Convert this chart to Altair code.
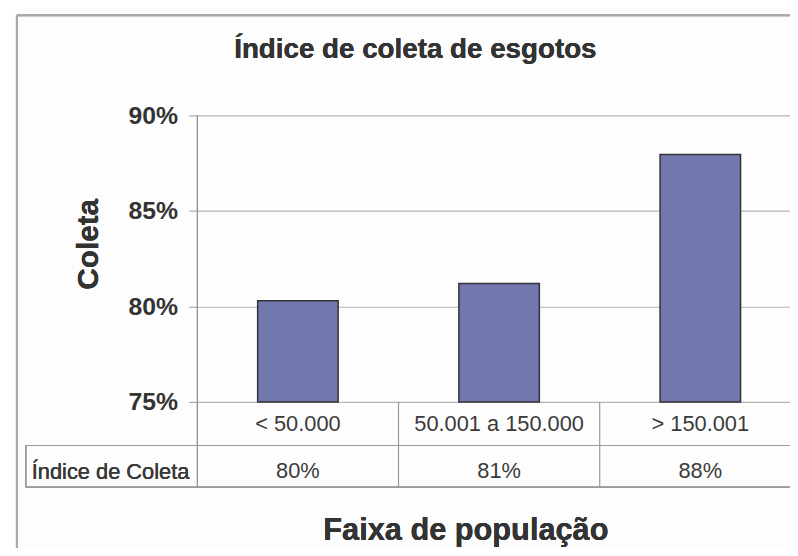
import altair as alt
import pandas as pd

# ---- data ----
categories = ["< 50.000", "50.001 a 150.000", "> 150.001"]
coleta = [80.3, 81.2, 87.95]
table_labels = ["80%", "81%", "88%"]
y_ticks = [75, 80, 85, 90]
row_header = "Índice de Coleta"
chart_title = "Índice de coleta de esgotos"
y_title = "Coleta"
x_title = "Faixa de população"

df = pd.DataFrame({"faixa": categories, "coleta": coleta, "rotulo": table_labels})

FONT = "Liberation Sans, Arial, Helvetica, sans-serif"
W, H = 598, 289
LINE = "#9a9a9a"

x_scale = alt.Scale(domain=categories, range=[0, 609], paddingInner=0, paddingOuter=0)
y_scale = alt.Scale(domain=[75, 90], zero=False, nice=False)
xenc = alt.X("faixa:N", scale=x_scale, axis=None, sort=categories)

bars = alt.Chart(df).mark_bar(
    width=alt.RelativeBandSize(0.4), fill="#7278ae", stroke="#333333", strokeWidth=1.5
).encode(
    x=xenc,
    y=alt.Y(
        "coleta:Q",
        scale=y_scale,
        axis=alt.Axis(
            values=y_ticks,
            labelExpr="datum.value + '%'",
            labelFont=FONT,
            labelFontSize=25,
            labelFontWeight="bold",
            labelColor="#333333",
            labelPadding=11,
            tickSize=9,
            tickColor=LINE,
            domain=False,
            grid=True,
            gridColor="#b5b5b5",
            gridWidth=1.2,
            title=None,
        ),
    ),
    y2=alt.datum(75),
)

# table: vertical separators at band starts
first = df.iloc[[0]]
rest = df.iloc[1:]
axis_line = alt.Chart(first).mark_rule(color="#8a8a8a", strokeWidth=1.2).encode(
    x=alt.X("faixa:N", scale=x_scale, axis=None, sort=categories, bandPosition=0),
    y=alt.value(0),
    y2=alt.value(375),
)
sep_lines = alt.Chart(rest).mark_rule(color=LINE, strokeWidth=1.2).encode(
    x=alt.X("faixa:N", scale=x_scale, axis=None, sort=categories, bandPosition=0),
    y=alt.value(H),
    y2=alt.value(375),
)
hline1 = alt.Chart(df).mark_rule(color=LINE, strokeWidth=1.2).encode(
    x=alt.value(-173), x2=alt.value(W), y=alt.value(333)
)
hline2 = alt.Chart(df).mark_rule(color=LINE, strokeWidth=1.2).encode(
    x=alt.value(-173), x2=alt.value(W), y=alt.value(375)
)
vleft = alt.Chart(df).mark_rule(color=LINE, strokeWidth=1.2).encode(
    x=alt.value(-173), y=alt.value(333), y2=alt.value(375)
)

# outer chart frame
frame_left = alt.Chart(df).mark_rule(color="#aaaaaa", strokeWidth=2).encode(
    x=alt.value(-182), y=alt.value(-101), y2=alt.value(H + 160)
)
frame_top = alt.Chart(df).mark_rule(color="#aaaaaa", strokeWidth=2).encode(
    x=alt.value(-182), x2=alt.value(W + 10), y=alt.value(-101)
)

cat_text = alt.Chart(df).mark_text(
    font=FONT, fontSize=22, color="#3a3a3a", baseline="alphabetic"
).encode(x=alt.X("faixa:N", scale=x_scale, axis=None, sort=categories, bandPosition=0.5),
         y=alt.value(318), text="faixa:N")
val_text = alt.Chart(df).mark_text(
    font=FONT, fontSize=22, color="#3a3a3a", baseline="alphabetic"
).encode(x=alt.X("faixa:N", scale=x_scale, axis=None, sort=categories, bandPosition=0.5),
         y=alt.value(366), text="rotulo:N")
hdr_text = alt.Chart(df).mark_text(
    font=FONT, fontSize=22, color="#3a3a3a", baseline="alphabetic", align="left", text=row_header
).encode(x=alt.value(-167), y=alt.value(367))

title_text = alt.Chart(df).mark_text(
    font=FONT, fontSize=28, fontWeight="bold", color="#333333", baseline="alphabetic",
    align="center", text=chart_title
).encode(x=alt.value(220), y=alt.value(-58))
ytitle_text = alt.Chart(df).mark_text(
    font=FONT, fontSize=30, fontWeight="bold", color="#333333", baseline="middle",
    align="center", angle=270, text=y_title
).encode(x=alt.value(-109), y=alt.value(130))
xtitle_text = alt.Chart(df).mark_text(
    font=FONT, fontSize=31, fontWeight="bold", color="#333333", baseline="alphabetic",
    align="center", text=x_title
).encode(x=alt.value(271), y=alt.value(428))

chart = alt.layer(
    frame_left, frame_top, bars, axis_line, sep_lines, hline1, hline2, vleft,
    cat_text, val_text, hdr_text, title_text, ytitle_text, xtitle_text,
).properties(
    width=W,
    height=H,
    autosize=alt.AutoSizeParams(type="none"),
    padding={"left": 191, "top": 106, "right": 0, "bottom": 145},
    background="#fdfdfd",
).configure_view(stroke=None)

chart.save("out.html", embed_options={"renderer": "svg", "actions": False})
